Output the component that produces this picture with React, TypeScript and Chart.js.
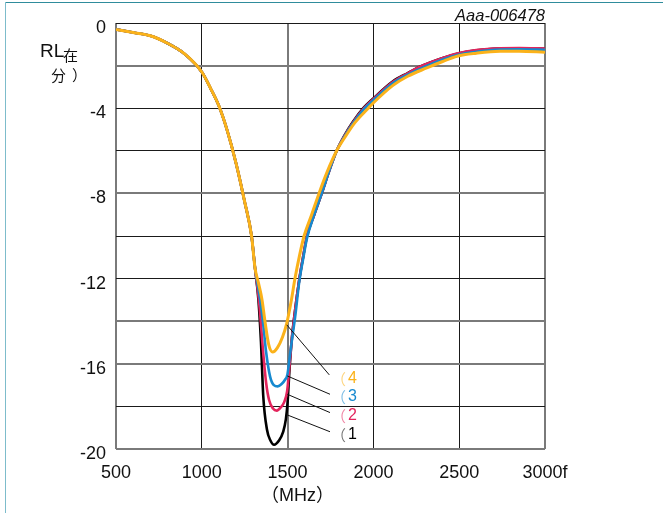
import React, { useEffect, useRef } from 'react';
import { Chart, registerables } from 'chart.js';

Chart.register(...registerables);

// ---------- data ----------
const sharedFreq = [500, 600, 700, 800, 900, 1000, 1050, 1100, 1150, 1200, 1250, 1290];
const sharedRL = [-0.3, -0.45, -0.6, -0.95, -1.45, -2.3, -3.05, -3.9, -5.1, -6.6, -8.4, -10.0];

const freq1 = [...sharedFreq, 1310, 1330, 1345, 1358, 1380, 1400, 1421, 1450, 1474, 1490, 1500, 1510, 1525, 1545, 1567, 1590, 1613, 1655, 1699, 1740, 1786, 1830, 1880, 1941, 1996, 2114, 2200, 2271, 2400, 2488, 2600, 2738, 2850, 3000];
const rl1 = [...sharedRL, -11.5, -13.0, -15.0, -17.5, -19.1, -19.6, -19.8, -19.6, -19.2, -18.6, -17.8, -16.4, -14.8, -13.4, -12.1, -11.0, -10.0, -9.0, -8.0, -7.0, -6.0, -5.3, -4.65, -4.0, -3.57, -2.74, -2.35, -2.05, -1.65, -1.44, -1.28, -1.2, -1.19, -1.21];

const freq2 = [...sharedFreq, 1310, 1335, 1357, 1375, 1392, 1415, 1437, 1460, 1480, 1497, 1510, 1525, 1545, 1567, 1590, 1613, 1655, 1699, 1740, 1786, 1830, 1880, 1945, 1996, 2114, 2200, 2271, 2400, 2488, 2600, 2738, 2850, 3000];
const rl2 = [...sharedRL, -11.5, -13.2, -15.4, -16.9, -17.7, -18.1, -18.2, -18.05, -17.8, -17.3, -16.2, -14.8, -13.4, -12.1, -11.0, -10.0, -9.0, -8.0, -7.0, -6.0, -5.32, -4.68, -4.0, -3.6, -2.76, -2.36, -2.05, -1.65, -1.43, -1.27, -1.19, -1.18, -1.2];

const freq3 = [...sharedFreq, 1310, 1340, 1360, 1374, 1398, 1420, 1442, 1465, 1485, 1499, 1515, 1530, 1544, 1567, 1590, 1613, 1655, 1699, 1740, 1786, 1830, 1880, 1950, 1996, 2114, 2200, 2300, 2400, 2488, 2600, 2738, 2850, 3000];
const rl3 = [...sharedRL, -11.5, -13.0, -14.3, -15.4, -16.6, -17.0, -17.06, -16.95, -16.75, -16.5, -15.5, -14.6, -13.8, -12.2, -11.1, -10.1, -9.0, -8.0, -7.0, -6.0, -5.35, -4.72, -4.0, -3.65, -2.82, -2.42, -2.05, -1.72, -1.5, -1.35, -1.25, -1.24, -1.26];

const freq4 = [...sharedFreq, 1310, 1330, 1351, 1368, 1390, 1413, 1440, 1470, 1495, 1520, 1543, 1570, 1596, 1640, 1683, 1730, 1786, 1835, 1890, 1970, 1996, 2114, 2200, 2311, 2400, 2488, 2600, 2738, 2850, 3000];
const rl4 = [...sharedRL, -11.5, -12.2, -13.0, -14.0, -15.1, -15.45, -15.25, -14.75, -14.1, -13.1, -12.0, -10.9, -10.0, -9.0, -8.0, -7.0, -6.0, -5.35, -4.7, -4.0, -3.78, -2.93, -2.5, -2.11, -1.82, -1.56, -1.42, -1.33, -1.33, -1.37];

const xTicks = [500, 1000, 1500, 2000, 2500, 3000];
const xTickLabels = ['500', '1000', '1500', '2000', '2500', '3000f'];
const yLabelValues = [0, -4, -8, -12, -16, -20];

// leader-line annotations (data coordinates)
const annoLabels = ['4', '3', '2', '1'];
const annoFromX = [1495, 1498, 1498, 1498];
const annoFromY = [-14.17, -16.57, -17.43, -18.4];
const annoToX = [1743, 1747, 1747, 1747];
const annoToY = [-16.52, -17.43, -18.29, -19.19];
const annoTextX = [1852, 1852, 1852, 1852];
const annoTextY = [-16.71, -17.56, -18.45, -19.34];

const titleText = 'Aaa-006478';
const xUnit = '（MHz）';

// ---------- styles ----------
const COLORS = ['#fbb21a', '#1689cf', '#e3245c', '#000000'];
const FONT = "'Liberation Sans', Arial, 'Noto Sans CJK SC', sans-serif";
const CJK = "'Noto Sans CJK SC', 'Liberation Sans', sans-serif";
const GRID_DARK = '#1a1a1a';
const GRID_GRAY = '#7a7a7a';
const yDark = [0, -4, -6, -10, -12, -18];
const xDark = [1000, 2000, 2500];

const toPts = (xs: number[], ys: number[]) => xs.map((x, i) => ({ x, y: ys[i] }));

const overlay = {
  id: 'overlay',
  afterDraw(chart: any) {
    const ctx = chart.ctx;
    const xs = chart.scales.x;
    const ys = chart.scales.y;
    const area = chart.chartArea;
    ctx.save();
    // frame lines (teal)
    ctx.lineWidth = 1;
    ctx.strokeStyle = '#2f8c9c';
    ctx.beginPath();
    ctx.moveTo(5, 2.5);
    ctx.lineTo(663, 2.5);
    ctx.stroke();
    ctx.strokeStyle = '#7dbccb';
    ctx.beginPath();
    ctx.moveTo(5.5, 2);
    ctx.lineTo(5.5, 513);
    ctx.stroke();

    // y tick labels
    ctx.fillStyle = '#111';
    ctx.font = `18px ${FONT}`;
    ctx.textAlign = 'right';
    ctx.textBaseline = 'middle';
    yLabelValues.forEach((v) => {
      ctx.fillText(String(v), area.left - 10, ys.getPixelForValue(v) + 5);
    });
    // x tick labels
    ctx.textAlign = 'center';
    ctx.textBaseline = 'middle';
    xTicks.forEach((v, i) => {
      ctx.fillText(xTickLabels[i], xs.getPixelForValue(v), area.bottom + 24);
    });
    // x unit
    ctx.font = `18px ${FONT}`;
    ctx.fillText(xUnit, area.left + (area.right - area.left) * 0.423, area.bottom + 47);

    // y title
    ctx.textAlign = 'left';
    ctx.textBaseline = 'alphabetic';
    ctx.font = `19px ${FONT}`;
    ctx.fillText('RL', 40, 57);
    ctx.font = `15px ${CJK}`;
    ctx.textBaseline = 'middle';
    ctx.fillText('在', 63, 55.5);
    ctx.fillText('分', 51, 75);
    ctx.fillText('）', 72, 75);

    // title
    ctx.font = `italic 16.5px ${FONT}`;
    ctx.textAlign = 'right';
    ctx.textBaseline = 'alphabetic';
    ctx.fillText(titleText, area.right, 20.5);

    // leader lines + labels
    ctx.strokeStyle = '#111';
    ctx.lineWidth = 1;
    annoLabels.forEach((lab, i) => {
      ctx.beginPath();
      ctx.moveTo(xs.getPixelForValue(annoFromX[i]), ys.getPixelForValue(annoFromY[i]));
      ctx.lineTo(xs.getPixelForValue(annoToX[i]), ys.getPixelForValue(annoToY[i]));
      ctx.stroke();
      const tx = xs.getPixelForValue(annoTextX[i]);
      const ty = ys.getPixelForValue(annoTextY[i]);
      ctx.fillStyle = COLORS[i];
      ctx.textBaseline = 'middle';
      ctx.globalAlpha = 0.55;
      ctx.textAlign = 'right';
      ctx.font = `15px ${CJK}`;
      ctx.fillText('（', tx - 2, ty);
      ctx.globalAlpha = 1;
      ctx.textAlign = 'left';
      ctx.font = `16px ${FONT}`;
      ctx.fillText(lab, tx, ty);
    });
    ctx.restore();
  },
};

export default function App() {
  const ref = useRef<HTMLCanvasElement>(null);
  useEffect(() => {
    if (!ref.current) return;
    const series = [
      { pts: toPts(freq4, rl4), c: COLORS[0], w: 3 },
      { pts: toPts(freq3, rl3), c: COLORS[1], w: 2.6 },
      { pts: toPts(freq2, rl2), c: COLORS[2], w: 2.6 },
      { pts: toPts(freq1, rl1), c: COLORS[3], w: 2.6 },
    ];
    const chart = new Chart(ref.current, {
      type: 'line',
      data: {
        datasets: series.map((s, i) => ({
          label: annoLabels[i],
          data: s.pts,
          borderColor: s.c,
          borderWidth: s.w,
          pointRadius: 0,
          fill: false,
          cubicInterpolationMode: 'monotone' as const,
        })),
      },
      options: {
        animation: false,
        responsive: false,
        devicePixelRatio: 1,
        layout: { padding: { left: 0, right: 118, top: 23, bottom: 0 } },
        plugins: { legend: { display: false }, tooltip: { enabled: false } },
        scales: {
          x: {
            type: 'linear',
            min: 500,
            max: 3000,
            afterFit: (a: any) => { a.height = 64; },
            ticks: { stepSize: 500, display: false },
            border: { display: false },
            grid: {
              drawTicks: false,
              color: (c: any) => (xDark.includes(c.tick?.value) ? GRID_DARK : GRID_GRAY),
              lineWidth: (c: any) => (xDark.includes(c.tick?.value) ? 1 : 2),
            },
          },
          y: {
            type: 'linear',
            min: -20,
            max: 0,
            afterFit: (a: any) => { a.width = 116; },
            ticks: { stepSize: 2, display: false },
            border: { display: false },
            grid: {
              drawTicks: false,
              color: (c: any) => (yDark.includes(c.tick?.value) ? GRID_DARK : GRID_GRAY),
              lineWidth: (c: any) => (yDark.includes(c.tick?.value) ? 1 : 2),
            },
          },
        },
      },
      plugins: [overlay],
    });
    return () => chart.destroy();
  }, []);
  return (
    <div style={{ position: 'fixed', left: 0, top: 0, width: 663, height: 513, background: '#fff' }}>
      <canvas ref={ref} width={663} height={513} style={{ display: 'block' }} />
    </div>
  );
}
